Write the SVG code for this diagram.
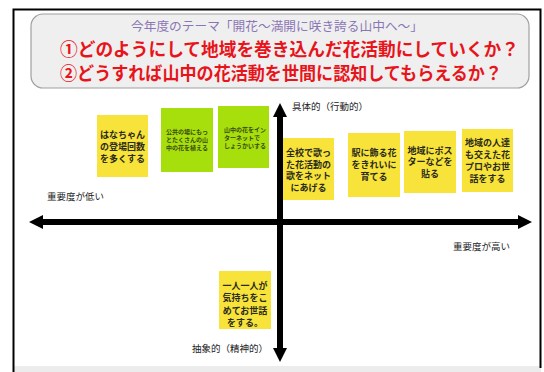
<svg xmlns="http://www.w3.org/2000/svg" width="544" height="372" viewBox="0 0 544 372">
<style>
.jp{font-family:"Noto Sans CJK JP","Noto Sans",sans-serif}
.note-y{fill:#f8e33a}
.note-g{fill:#a6df0c}
.nt{font-family:"Noto Sans CJK JP",sans-serif;font-size:9px;font-weight:700;fill:#2a2a1a;text-anchor:middle}
.ng{font-family:"Noto Sans CJK JP",sans-serif;font-size:6px;font-weight:700;fill:#3a4a10}
.ax{font-family:"Noto Sans CJK JP",sans-serif;font-size:9.5px;fill:#222}
.red{font-family:"Noto Sans CJK JP",sans-serif;font-size:18px;font-weight:700;fill:#e8141b}
.axis{stroke:#000;stroke-width:6;fill:none}
</style>
<defs>
<marker id="ah" viewBox="0 0 14 14" refX="0" refY="7" markerWidth="14" markerHeight="14" markerUnits="userSpaceOnUse" orient="auto-start-reverse">
<path d="M0,0 L14,7 L0,14 z" fill="#000"/>
</marker>
</defs>
<rect width="544" height="372" fill="#fff"/>
<g id="frame">
<rect x="13" y="366" width="528" height="6" fill="#ececec"/>
<path d="M13.5,372 V9.5 H540.5 V368" fill="none" stroke="#000" stroke-width="2"/>
</g>
<g id="header">
<rect x="31" y="14" width="498" height="74" rx="12" ry="12" fill="#efefef" stroke="#a0a0a0" stroke-width="1.2"/>
<text class="jp" x="277" y="30.5" font-size="12.5" fill="#8b76b5" text-anchor="middle" textLength="292" lengthAdjust="spacingAndGlyphs">今年度のテーマ「開花～満開に咲き誇る山中へ～」</text>
<text class="red" x="60" y="55.5" textLength="459" lengthAdjust="spacingAndGlyphs">①どのようにして地域を巻き込んだ花活動にしていくか？</text>
<text class="red" x="60" y="80" textLength="442" lengthAdjust="spacingAndGlyphs">②どうすれば山中の花活動を世間に認知してもらえるか？</text>
</g>
<g id="connectors">
<line class="axis" x1="43" y1="222" x2="518" y2="222" marker-start="url(#ah)" marker-end="url(#ah)"/>
<line class="axis" x1="280" y1="117" x2="280" y2="348" marker-start="url(#ah)" marker-end="url(#ah)"/>
</g>
<g id="label-concrete"><text class="ax" x="292" y="110">具体的（行動的）</text></g>
<g id="label-abstract"><text class="ax" x="268" y="352" text-anchor="end">抽象的（精神的）</text></g>
<g id="label-low"><text class="ax" x="47" y="200" font-size="10">重要度が低い</text></g>
<g id="label-high"><text class="ax" x="453" y="250" font-size="10">重要度が高い</text></g>
<g id="note-hanachan">
<rect class="note-y" x="97" y="115" width="51" height="62"/>
<text class="nt" x="122.5" y="138">はなちゃん</text>
<text class="nt" x="122.5" y="150">の登場回数</text>
<text class="nt" x="122.5" y="162">を多くする</text>
</g>
<g id="note-public">
<rect class="note-g" x="161" y="108" width="52" height="64"/>
<text class="ng" x="187" y="134" text-anchor="middle">公共の場にもっ</text>
<text class="ng" x="187" y="142" text-anchor="middle">とたくさんの山</text>
<text class="ng" x="187" y="150" text-anchor="middle">中の花を植える</text>
</g>
<g id="note-internet">
<rect class="note-g" x="218" y="106" width="51" height="62"/>
<text class="ng" x="224" y="132">山中の花をイン</text>
<text class="ng" x="224" y="140">ターネットで</text>
<text class="ng" x="224" y="148">しょうかいする</text>
</g>
<g id="note-song">
<rect class="note-y" x="283" y="138" width="51" height="62"/>
<text class="nt" x="308.5" y="156">全校で歌っ</text>
<text class="nt" x="308.5" y="167.5">た花活動の</text>
<text class="nt" x="308.5" y="179">歌をネット</text>
<text class="nt" x="308.5" y="190.5">にあげる</text>
</g>
<g id="note-station">
<rect class="note-y" x="348" y="133" width="52" height="64"/>
<text class="nt" x="374" y="156">駅に飾る花</text>
<text class="nt" x="374" y="168">をきれいに</text>
<text class="nt" x="374" y="180">育てる</text>
</g>
<g id="note-poster">
<rect class="note-y" x="404" y="131" width="52" height="62"/>
<text class="nt" x="430" y="153.5">地域にポス</text>
<text class="nt" x="430" y="165">ターなどを</text>
<text class="nt" x="430" y="176.5">貼る</text>
</g>
<g id="note-community">
<rect class="note-y" x="462" y="129" width="51" height="63"/>
<text class="nt" x="487.5" y="145.5">地域の人達</text>
<text class="nt" x="487.5" y="157.5">も交えた花</text>
<text class="nt" x="487.5" y="169.5">プロやお世</text>
<text class="nt" x="487.5" y="181.5">話をする</text>
</g>
<g id="note-heart">
<rect class="note-y" x="219" y="271" width="52" height="58"/>
<text class="nt" x="245" y="288.5">一人一人が</text>
<text class="nt" x="245" y="301">気持ちをこ</text>
<text class="nt" x="245" y="313.5">めてお世話</text>
<text class="nt" x="245" y="325.5">をする。</text>
</g>
</svg>
